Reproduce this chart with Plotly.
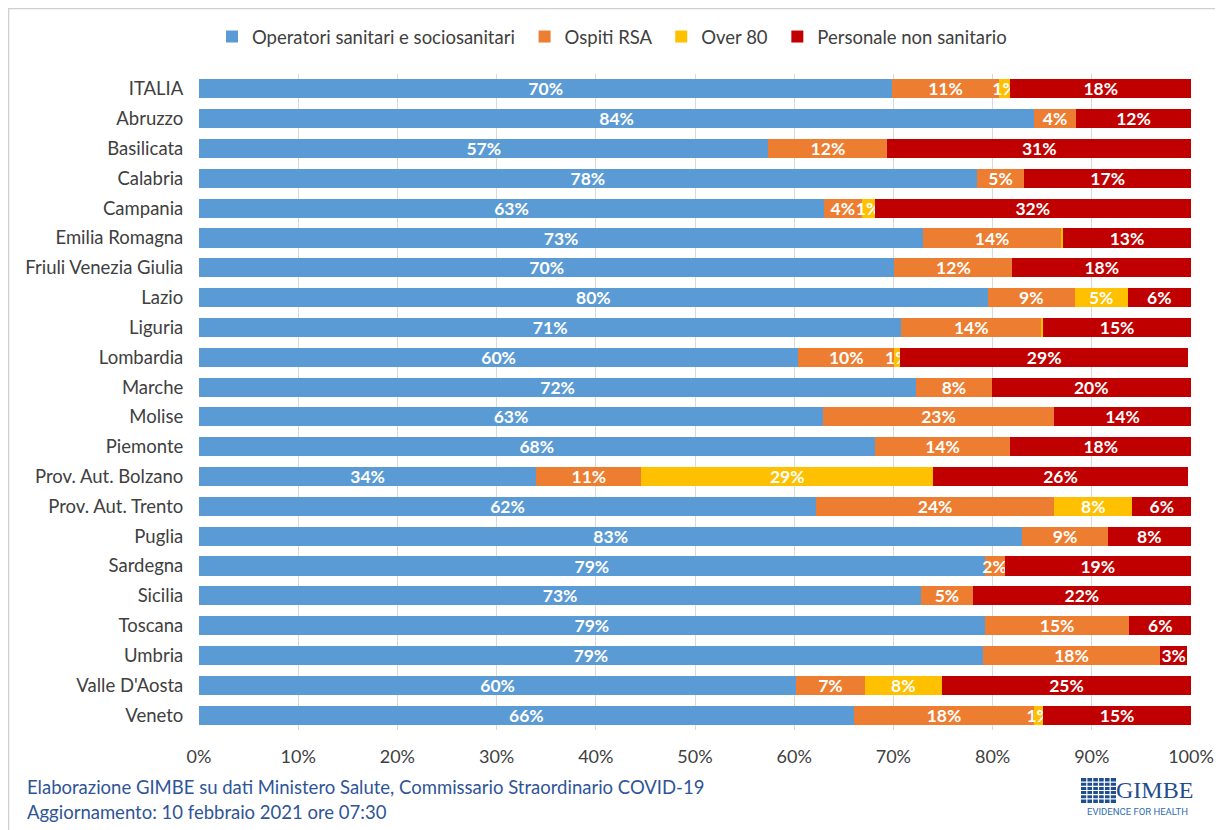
import plotly.graph_objects as go

regions = ["ITALIA", "Abruzzo", "Basilicata", "Calabria", "Campania", "Emilia Romagna",
           "Friuli Venezia Giulia", "Lazio", "Liguria", "Lombardia", "Marche", "Molise",
           "Piemonte", "Prov. Aut. Bolzano", "Prov. Aut. Trento", "Puglia", "Sardegna",
           "Sicilia", "Toscana", "Umbria", "Valle D'Aosta", "Veneto"]

operatori = [69.9, 84.2, 57.4, 78.4, 63.0, 73.0, 70.1, 79.5, 70.8, 60.4, 72.3, 62.9,
             68.1, 34.0, 62.2, 83.0, 79.2, 72.8, 79.2, 79.0, 60.2, 66.0]
ospiti_rsa = [10.7, 4.2, 12.0, 4.8, 3.8, 13.9, 11.9, 8.8, 14.1, 9.7, 7.6, 23.3,
              13.7, 10.6, 24.0, 8.6, 2.0, 5.2, 14.6, 17.9, 6.9, 18.2]
over80 = [1.2, 0.0, 0.0, 0.0, 1.3, 0.2, 0.0, 5.3, 0.2, 0.6, 0.0, 0.0,
          0.0, 29.4, 7.9, 0.0, 0.0, 0.0, 0.0, 0.0, 7.8, 0.9]
non_sanitario = [18.2, 11.6, 30.6, 16.8, 31.9, 12.9, 18.0, 6.4, 14.9, 29.0, 20.1, 13.8,
                 18.2, 25.7, 5.9, 8.4, 18.8, 22.0, 6.2, 2.7, 25.1, 14.9]

series_names = ["Operatori sanitari e sociosanitari", "Ospiti RSA", "Over 80", "Personale non sanitario"]
series_colors = ["#5B9BD5", "#ED7D31", "#FFC000", "#C00000"]
x_ticks = [0, 10, 20, 30, 40, 50, 60, 70, 80, 90, 100]

# the page body has an 8px margin, so the figure is drawn 8px in from the window corner
OFF = 8
W, H = 1223 - OFF, 830 - OFF
ML, MR, MT, MB = 199 - OFF, 32, 74 - OFF, 100
PW, PH = W - ML - MR, H - MT - MB


def px(x):  # x in window pixels -> paper
    return (x - OFF - ML) / PW


def py(y):  # y in window pixels -> paper
    return 1 - (y - OFF - MT) / PH


def lab(v):
    return f"{int(v + 0.5)}%" if v >= 0.5 else ""


font_fam = "Lato"
NB = "\u00a0"

fig = go.Figure()
for i, (name, vals, col) in enumerate(zip(series_names, [operatori, ospiti_rsa, over80, non_sanitario], series_colors)):
    fig.add_trace(go.Bar(
        y=regions, x=vals, name=name + (NB if i < 3 else ""), orientation="h",
        marker=dict(color=col, line=dict(width=0)),
        text=[lab(v) for v in vals],
        textposition="inside", insidetextanchor="middle",
        constraintext="none", textangle=0,
        textfont=dict(family=font_fam, size=17.5, color="white", weight="bold"),
        cliponaxis=False, hovertemplate="%{y}: %{x}%<extra>" + name + "</extra>",
    ))

fig.update_layout(
    width=W, height=H,
    barmode="stack", bargap=0.36,
    margin=dict(l=ML, r=MR, t=MT, b=MB, autoexpand=False),
    paper_bgcolor="white", plot_bgcolor="white",
    font=dict(family=font_fam, size=18, color="#404040"),
    showlegend=True,
    legend=dict(orientation="h", x=px(612), xanchor="center", y=py(37), yanchor="middle",
                font=dict(family=font_fam, size=18.5, color="#404040"),
                traceorder="normal", itemwidth=30, bgcolor="rgba(0,0,0,0)"),
    xaxis=dict(range=[0, 100.0005], tickvals=x_ticks, ticktext=[f"{v}%" for v in x_ticks],
               showgrid=True, gridcolor="#d9d9d9", gridwidth=1,
               zeroline=False, showline=False,
               ticks="outside", ticklen=10, tickcolor="rgba(0,0,0,0)",
               tickfont=dict(family=font_fam, size=18, color="#404040"),
               fixedrange=True),
    yaxis=dict(autorange="reversed", showgrid=False, zeroline=False, showline=False,
               ticks="outside", ticklen=11, tickcolor="rgba(0,0,0,0)",
               tickfont=dict(family=font_fam, size=18.5, color="#404040"),
               fixedrange=True),
)

shapes = []
# outer frame of the chart image
shapes.append(dict(type="rect", xref="paper", yref="paper",
                   x0=px(8.5), x1=px(1260), y0=py(860), y1=py(8.5),
                   line=dict(color="#d0d0d0", width=1.5), fillcolor="rgba(0,0,0,0)", layer="below"))
# logo grid icon
gx0, gx1, gy0, gy1 = 1081, 1116, 778, 803
shapes.append(dict(type="rect", xref="paper", yref="paper",
                   x0=px(gx0), x1=px(gx1), y0=py(gy1), y1=py(gy0),
                   line=dict(width=0), fillcolor="#1F4E8C"))
n = 6
for i in range(1, n):
    xx = gx0 + (gx1 - gx0) * i / n
    shapes.append(dict(type="line", xref="paper", yref="paper", x0=px(xx), x1=px(xx),
                       y0=py(gy1), y1=py(gy0), line=dict(color="white", width=1.2)))
    yy = gy0 + (gy1 - gy0) * i / n
    shapes.append(dict(type="line", xref="paper", yref="paper", x0=px(gx0), x1=px(gx1),
                       y0=py(yy), y1=py(yy), line=dict(color="white", width=1.2)))
fig.update_layout(shapes=shapes)

ann = [
    dict(text="Elaborazione GIMBE su dati Ministero Salute, Commissario Straordinario COVID-19",
         x=px(25), y=py(787), xanchor="left", yanchor="middle",
         font=dict(family=font_fam, size=18.5, color="#2F5597")),
    dict(text="Aggiornamento: 10 febbraio 2021 ore 07:30",
         x=px(25), y=py(812), xanchor="left", yanchor="middle",
         font=dict(family=font_fam, size=18.5, color="#2F5597")),
    dict(text="GIMBE", x=px(1195), y=py(790), xanchor="right", yanchor="middle",
         font=dict(family="Liberation Serif", size=24, color="#1F4E8C")),
    dict(text="EVIDENCE FOR HEALTH", x=px(1137), y=py(811), xanchor="center", yanchor="middle",
         font=dict(family="Roboto", size=9.5, color="#2F6DB0")),
]
for a in ann:
    a.update(xref="paper", yref="paper", showarrow=False)
fig.update_layout(annotations=ann)

fig.write_html("out.html")
